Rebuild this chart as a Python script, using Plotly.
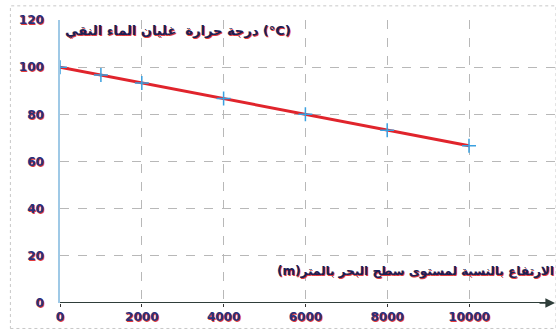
import plotly.graph_objects as go

altitude_m = [0, 1000, 2000, 4000, 6000, 8000, 10000]
boiling_c = [100, 96.7, 93.3, 86.7, 80, 73.3, 66.7]
x_ticks = [0, 2000, 4000, 6000, 8000, 10000]
y_ticks = [0, 20, 40, 60, 80, 100, 120]
y_title = "درجة حرارة  غليان الماء النقي (°C)"
x_title = "(m)" + "الارتفاع بالنسبة لمستوى سطح البحر بالمتر"

text_col = "#2a2f7a"
shadow = "1px 1px 0px #e23b3b"
font_fam = "DejaVu Sans"

fig = go.Figure()
fig.add_trace(go.Scatter(
    x=altitude_m, y=boiling_c, mode="lines+markers",
    line=dict(color="#e0242c", width=3),
    marker=dict(symbol="cross-thin", size=10,
                line=dict(color="#3aa0e0", width=1.5)),
    showlegend=False, hoverinfo="skip",
))

fig.update_layout(
    width=556, height=331,
    margin=dict(l=60, r=0, t=20, b=28),
    paper_bgcolor="white", plot_bgcolor="white",
    font=dict(family=font_fam, color=text_col),
    xaxis=dict(range=[0, 12127], tickvals=x_ticks, ticktext=[str(v) for v in x_ticks],
               showgrid=True, gridcolor="#b8b8b8", griddash="dash", gridwidth=1,
               zeroline=False, showline=False, ticks="outside", ticklen=3,
               tickcolor="#333", tickfont=dict(size=12, family=font_fam, weight="bold",
                                               color=text_col, shadow=shadow)),
    yaxis=dict(range=[0, 120], tickvals=y_ticks, ticktext=[str(v) for v in y_ticks],
               showgrid=True, gridcolor="#b8b8b8", griddash="dash", gridwidth=1,
               zeroline=False, showline=True, linecolor="#9fc9e6", linewidth=1.5,
               ticks="", ticklabelstandoff=12,
               tickfont=dict(size=12, family=font_fam, weight="bold",
                             color=text_col, shadow=shadow)),
)

# x-axis line with red under-stroke and arrow
fig.add_shape(type="line", xref="paper", yref="y", x0=0, x1=0.985, y0=-0.6, y1=-0.6,
              line=dict(color="#f06a5a", width=1.5))
fig.add_shape(type="line", xref="paper", yref="y", x0=0, x1=0.99, y0=0, y1=0,
              line=dict(color="#2f3e3a", width=2))
fig.add_annotation(xref="paper", yref="y", x=1.0, y=0, ax=-18, ay=0, axref="pixel",
                   showarrow=True, arrowhead=2, arrowsize=1.2, arrowwidth=1.6,
                   arrowcolor="#2f3e3a", text="")

# outer frame
fig.add_shape(type="rect", xref="paper", yref="paper", x0=-0.1, x1=1.0, y0=-0.09, y1=1.05,
              line=dict(color="#c8c8c8", width=1, dash="dot"), layer="below")

fig.add_annotation(xref="x", yref="y", x=80, y=115.5, xanchor="left", yanchor="middle",
                   text=y_title, showarrow=False,
                   font=dict(size=13, family=font_fam, weight="bold", color="#1d1f55", shadow=shadow))
fig.add_annotation(xref="paper", yref="y", x=1.0, y=13.2, xanchor="right", yanchor="middle",
                   text=x_title, showarrow=False,
                   font=dict(size=12, family=font_fam, weight="bold", color="#1d1f55", shadow=shadow))

fig.write_html("out.html", config={"displayModeBar": False},
               post_script="document.body.style.margin='0';")
